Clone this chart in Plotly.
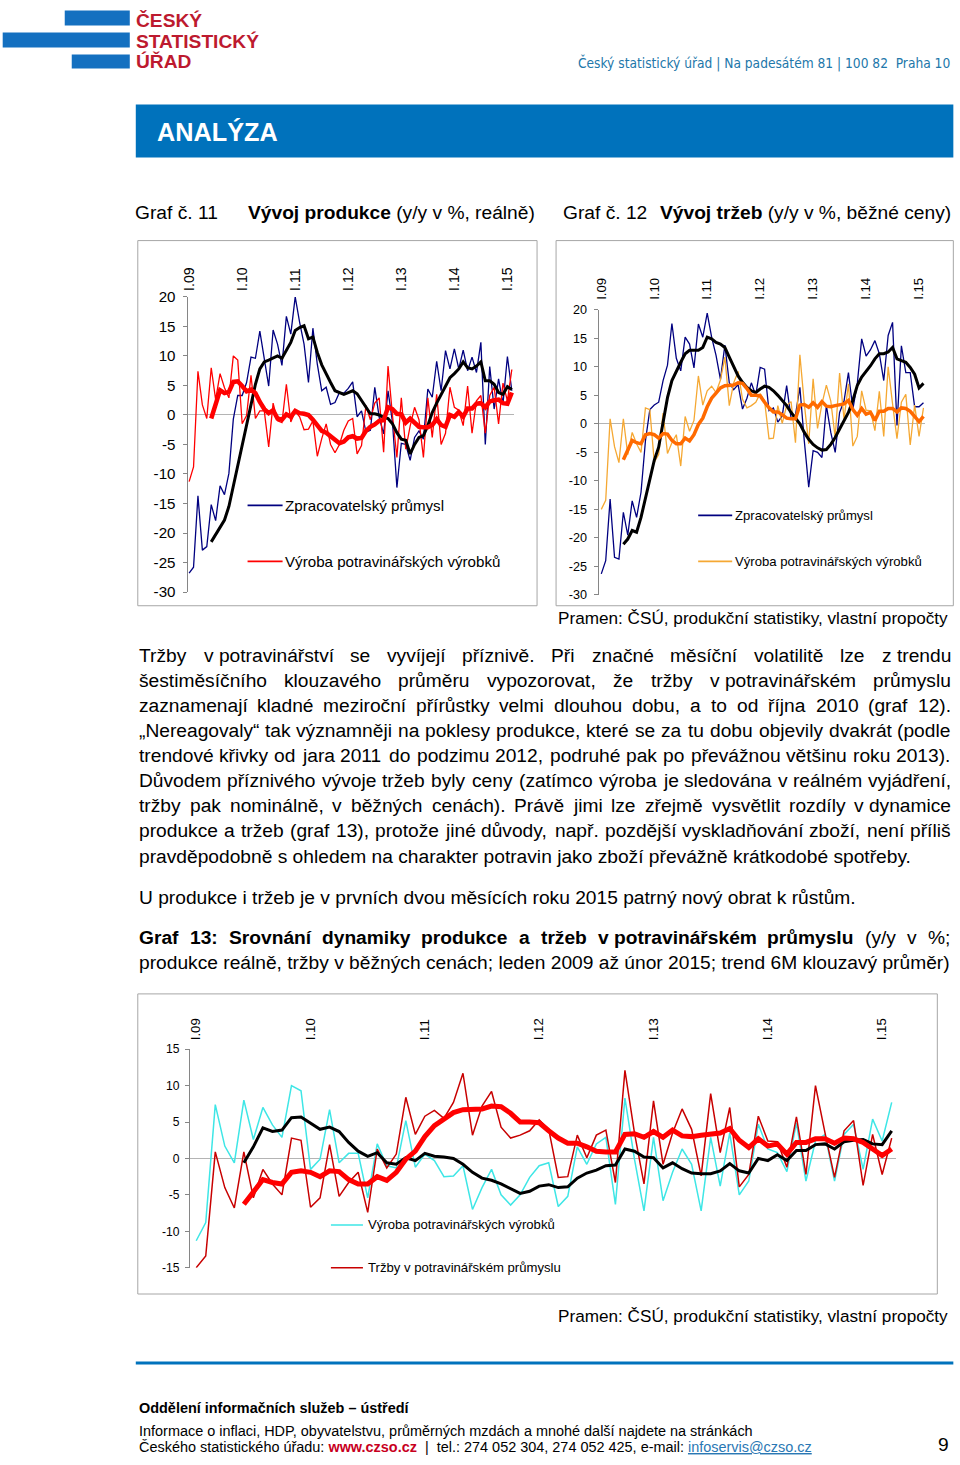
import unicodedata
import plotly.graph_objects as go

# Full-window figure; the body margin is removed after plotting.  Page positions
# are mapped through a small affine correction measured on earlier renders so
# that the photographed picture lines up with the reference.
W, H = 960, 1465
SX, OX = 0.991, 7.3
SY, OY = 0.988, 8.5
FSC = 1 / 0.99
FONT = "Liberation Sans, Arial, sans-serif"

# ------------------------------------------------------------------ data
months = [f"{y}-{m:02d}" for y in range(2009, 2016) for m in range(1, 13)][:74]
tick_months = ["2009-01", "2010-01", "2011-01", "2012-01", "2013-01", "2014-01", "2015-01"]
tick_labels = ["I.09", "I.10", "I.11", "I.12", "I.13", "I.14", "I.15"]
y_ticks_a = [-30, -25, -20, -15, -10, -5, 0, 5, 10, 15, 20]
y_tick_labels_a = ["-30", "-25", "-20", "-15", "-10", "-5", "0", "5", "10", "15", "20"]
y_ticks_b = [-15, -10, -5, 0, 5, 10, 15]
y_tick_labels_b = ["-15", "-10", "-5", "0", "5", "10", "15"]

# Zpracovatelský průmysl - produkce (y/y %), I.2009 - II.2015
manuf_prod = [
    -26.8, -25.8, -13.7, -22.9, -22.3, -15.2, -17.9, -12.0, -13.5, -9.9, -0.7, 3.3,
    3.3, 5.5, 9.8, 9.6, 14.2, 9.5, 4.9, 14.4, 12.0, 8.4, 16.7, 13.7,
    20.0, 15.7, 12.0, 5.5, 14.7, 8.6, 4.1, 4.7, 1.8, 2.1, 3.8, 3.7,
    4.5, 5.6, -0.3, 0.7, -2.9, -2.6, 4.7, -0.4, -3.2, 4.1, -1.2, -12.3,
    -4.8, -5.0, -7.7, -3.8, -2.7, -4.1, 4.4, 3.0, 9.1, 4.1, 10.9, 7.8,
    11.2, 7.8, 11.0, 7.5, 9.8, 7.2, 12.3, -5.0, 8.2, 1.0, 6.1, 1.9,
    9.9, 4.1]
# trend (6M klouzavý průměr), VI.2009 - II.2015
manuf_prod_trend = [
    -21.5, -20.3, -19.0, -17.8, -15.5, -12.0, -8.3,
    -4.8, -1.8, 2.0, 5.2, 7.8, 9.0, 9.3, 9.6, 10.0, 9.6, 11.0, 12.3,
    14.3, 14.8, 15.1, 12.9, 13.2, 10.6, 8.5, 6.9, 5.5, 4.1, 3.8, 3.5,
    3.8, 4.1, 3.6, 2.5, 1.3, 0.2, 0.2, 0.0, -0.4, -0.6, -1.5, -3.0,
    -4.1, -4.3, -6.6, -5.0, -3.8, -3.5, -1.8, 0.4, 2.0, 3.5, 5.0, 6.3,
    7.0, 7.8, 9.0, 8.0, 7.8, 8.3, 9.0, 5.8, 5.8, 5.2, 3.8, 3.5,
    4.8, 4.3]

# Výroba potravinářských výrobků - produkce (y/y %)
food_prod = [
    -11.3, -8.8, 7.4, 1.7, -0.6, 8.0, 2.6, 7.0, 4.6, 2.9, 10.0, 9.3,
    -1.5, -0.1, 6.7, -0.6, 0.7, 0.7, -5.4, 2.0, -1.0, -1.3, 5.2, -1.2,
    0.6, -0.3, -2.5, -2.4, -1.0, -7.0, -4.0, -1.5, -5.0, -6.4, -5.0, -2.6,
    -1.0, -0.6, -6.6, -5.2, 1.6, -0.8, 2.0, 2.9, -6.3, 8.3, -0.1, -7.2,
    2.9, -5.8, -1.9, 1.3, -0.8, -7.2, 2.9, -3.8, 3.5, -5.0, -3.1, 4.7,
    1.3, 0.8, -1.8, 4.9, -3.1, 2.4, 3.3, -3.1, 3.3, 4.7, -1.5, 5.4,
    2.4, 7.7]
food_prod_trend = [
    -0.6, 1.6, 4.2, 3.7, 3.9, 5.6, 5.7,
    4.9, 4.0, 4.3, 3.7, 2.2, 1.0, 0.3, 0.8, -0.6, -0.8, 0.1, -0.3,
    0.7, 0.3, 0.2, 0.0, -0.8, -1.9, -2.7, -3.0, -3.5, -4.2, -4.8, -4.5,
    -3.8, -3.6, -4.0, -3.9, -2.7, -2.0, -1.6, -1.0, -0.9, 1.3, 1.0, 0.2,
    0.1, -1.3, -0.6, -1.4, -2.0, -2.1, -2.1, -1.7, -0.7, -1.7, -2.0, 0.0,
    -0.3, 0.5, -0.3, 1.1, 1.1, 1.9, 2.0, 1.3, 2.3, 2.5, 2.6, 2.0,
    1.9, 3.8]

# Zpracovatelský průmysl - tržby (y/y %, běžné ceny)
manuf_sales = [
    -26.3, -24.0, -13.2, -23.4, -23.7, -15.5, -19.5, -13.5, -16.4, -12.0, -3.0, 2.5,
    3.3, 3.8, 7.6, 10.3, 17.6, 11.5, 9.3, 15.2, 14.0, 9.8, 17.5, 15.2,
    19.4, 15.2, 12.0, 7.8, 13.8, 7.2, 6.0, 6.9, 2.6, 4.5, 7.2, 5.0,
    9.9, 9.6, 2.3, 2.8, 0.3, 1.4, 6.7, 1.0, 1.6, 6.4, -3.0, -11.1,
    -4.7, -5.0, -5.9, 3.2, -1.5, -5.0, 2.0, 4.0, 9.0, 2.6, 7.0, 14.9,
    11.9, 13.0, 14.6, 12.3, 7.6, 15.5, 17.8, -0.3, 13.7, 9.0, 9.0, 3.0,
    3.0, 3.7]
manuf_sales_trend = [
    -21.1, -20.2, -18.7, -19.0, -16.4, -13.2, -9.9,
    -6.4, -4.1, 0.6, 4.6, 7.6, 9.3, 10.8, 12.3, 12.9, 12.9, 12.9, 13.4,
    15.2, 14.9, 14.3, 14.0, 13.4, 11.7, 9.9, 8.4, 7.3, 6.4, 5.8, 5.5,
    6.1, 6.6, 6.4, 5.8, 5.0, 4.1, 3.2, 2.0, 1.0, 0.0, -1.5, -2.7,
    -3.6, -4.2, -4.6, -4.5, -3.6, -2.4, -0.9, 0.6, 2.0, 4.1, 6.7, 8.2,
    9.1, 10.2, 11.4, 12.3, 12.3, 12.6, 13.4, 11.4, 11.1, 10.8, 9.9, 8.7,
    6.3, 7.1]

# Výroba potravinářských výrobků - tržby (y/y %, běžné ceny)
food_sales = [
    -15.0, -13.4, 0.9, -4.0, -6.8, 0.9, -5.4, -1.5, -3.5, -5.0, 2.8, 2.5,
    -6.7, -5.4, 1.9, -5.2, -3.3, -1.9, -7.4, 1.3, -1.3, 0.6, 8.4, 3.3,
    5.8, 6.6, 5.5, 7.7, 11.7, 3.2, 7.2, 9.2, 4.3, 2.8, 3.2, 3.8,
    5.3, 4.0, -2.6, -2.5, 3.2, 0.1, 3.2, 3.9, -3.3, 12.1, 3.5, -3.5,
    7.9, -0.8, 3.5, 6.8, 4.0, -2.4, 8.9, 0.8, 7.0, -3.9, -2.2, 5.8,
    2.4, 2.3, -1.2, 5.7, -2.2, 10.0, 3.5, -2.6, 3.8, 5.2, -3.7, 3.3,
    -2.2, 2.8]
food_sales_trend = [
    -6.3, -4.7, -2.9, -3.3, -3.5, -1.9, -1.7,
    -1.9, -2.5, -1.7, -1.8, -2.9, -3.5, -3.5, -2.5, -3.0, -1.9, -0.1, 1.0,
    3.0, 4.5, 5.4, 6.3, 6.7, 6.7, 6.8, 7.2, 7.1, 6.2, 5.0, 5.0,
    4.9, 3.8, 2.8, 2.1, 2.1, 1.6, 1.0, 0.9, 0.9, 3.3, 3.4, 2.9,
    3.7, 2.9, 3.9, 3.1, 3.0, 3.2, 3.3, 3.5, 4.1, 2.5, 1.5, 2.7,
    1.7, 2.0, 0.6, 2.2, 2.2, 2.7, 2.7, 2.1, 2.8, 2.7, 2.2, 1.3,
    0.4, 1.3]


def pad(trend):
    return [None] * (len(months) - len(trend)) + trend


# ------------------------------------------------------------------ helpers
def fx(px):
    return ((px - OX) / SX) / W


def fy(py):
    return 1 - ((py - OY) / SY) / H


fig = go.Figure()
annotations = []
shapes = []


def text(s, x, y, size, anchor="left", color="black", bold=False, family=FONT, yanchor="middle"):
    if bold:
        s = "<b>" + s + "</b>"
    annotations.append(dict(text=s, x=fx(x), y=fy(y), xref="paper", yref="paper",
                            xanchor=anchor, yanchor=yanchor, showarrow=False, borderpad=0,
                            font=dict(size=size * FSC, color=color, family=family)))


def rect(x0, y0, x1, y1, fill=None, line=None, lw=1):
    shapes.append(dict(type="rect", xref="paper", yref="paper",
                       x0=fx(x0), x1=fx(x1), y0=fy(y1), y1=fy(y0),
                       fillcolor=fill if fill else "rgba(0,0,0,0)",
                       line=dict(color=line if line else "rgba(0,0,0,0)", width=lw if line else 0),
                       layer="below"))


def hline(x0, x1, y, color, width):
    shapes.append(dict(type="line", xref="paper", yref="paper", x0=fx(x0), x1=fx(x1),
                       y0=fy(y), y1=fy(y), line=dict(color=color, width=width)))


def _table(groups):
    t = {}
    for w, chars in groups:
        for ch in chars:
            t[ch] = w
    return t


REG_W = _table([(222, "ijl"), (260, "|"), (278, " \u00a0,./:;!IftíÍ"),
                (333, "()-r\u201e\u201c\u201d"), (500, "cksvxyzJ"),
                (556, "abdeghnopqu0123456789L\u2013"), (611, "FTZ"),
                (667, "ABEKPSVXY"), (722, "CDHNRUw"), (778, "GOQ"), (833, "Mm"),
                (889, "%"), (944, "W")])
BOLD_W = _table([(278, " \u00a0,./IijlíÍ"), (333, "()-:;ft\u201e\u201c\u201d"), (389, "r"),
                 (500, "z"), (556, "acekJsvxy0123456789\u2013"),
                 (611, "bdghnopquFLTZ"), (667, "EPSVXY"), (722, "ABCDHKNRU"),
                 (778, "GOQw"), (833, "M"), (889, "m%"), (944, "W")])


def char_w(ch, bold):
    t = BOLD_W if bold else REG_W
    if ch in t:
        return t[ch]
    base = unicodedata.normalize("NFD", ch)[0]
    return t.get(base, 556)


def justify(tokens, y, x0=138, x1=949, size=19):
    toks = [(t, False) if isinstance(t, str) else t for t in tokens]
    widths = [sum(char_w(c, b) for c in t) * size / 1000 for t, b in toks]
    gap = (x1 - x0 - sum(widths)) / (len(toks) - 1)
    x = x0
    for (t, b), w in zip(toks, widths):
        text(t, x, y, size, bold=b)
        x += w + gap


# ------------------------------------------------------------------ charts
def axes(n, xd, yd, xr, yr, yt, ytl, yfs, xfs, xstand, ystand):
    s = "" if n == 1 else str(n)
    fig.update_layout(**{
        "xaxis" + s: dict(domain=[fx(xd[0]), fx(xd[1])], range=xr, type="category",
                          anchor="y" + s, side="top", tickmode="array",
                          tickvals=tick_months, ticktext=tick_labels, tickangle=-90,
                          tickfont=dict(size=xfs * FSC, color="black", family=FONT),
                          showline=False, showgrid=False, zeroline=False, ticks="",
                          ticklabelstandoff=xstand, fixedrange=True),
        "yaxis" + s: dict(domain=[fy(yd[1]), fy(yd[0])], range=yr, anchor="x" + s,
                          tickmode="array", tickvals=yt, ticktext=ytl,
                          showline=True, linecolor="#868686", linewidth=1,
                          ticks="outside", ticklen=4, tickcolor="#868686", tickwidth=1,
                          showgrid=False, zeroline=True, zerolinecolor="#b4b4b4",
                          zerolinewidth=1,
                          tickfont=dict(size=yfs * FSC, color="black", family=FONT),
                          ticklabelstandoff=ystand, fixedrange=True),
    })


def line(y, ax, color, width, name):
    s = "" if ax == 1 else str(ax)
    fig.add_trace(go.Scatter(x=months, y=y, xaxis="x" + s, yaxis="y" + s, mode="lines",
                             line=dict(color=color, width=width), name=name,
                             showlegend=False, connectgaps=False, hoverinfo="skip"))


# Graf 11
line(manuf_prod, 1, "#000080", 1.3, "Zpracovatelský průmysl")
line(food_prod, 1, "#ff0000", 1.3, "Výroba potravinářských výrobků")
line(pad(manuf_prod_trend), 1, "#000000", 3, "Zpracovatelský průmysl - trend")
line(pad(food_prod_trend), 1, "#ff0000", 4.5, "Výroba potravinářských výrobků - trend")
axes(1, (187.7, 514), (296.3, 591.3), [-0.36, 73.5], [-30, 20],
     y_ticks_a, y_tick_labels_a, 15, 14, 5, 4)

# Graf 12
line(manuf_sales, 2, "#000080", 1.3, "Zpracovatelský průmysl")
line(food_sales, 2, "#f5a833", 1.3, "Výroba potravinářských výrobků")
line(pad(manuf_sales_trend), 2, "#000000", 3, "Zpracovatelský průmysl - trend")
line(pad(food_sales_trend), 2, "#ff6a00", 3.5, "Výroba potravinářských výrobků - trend")
axes(2, (598.5, 925), (309.2, 594.2), [-0.61, 73.42], [-30, 20],
     y_ticks_a, y_tick_labels_a, 12.5, 13, 9, 4)

# Graf 13
line(food_prod, 3, "#3ee6e6", 1.5, "Výroba potravinářských výrobků")
line(food_sales, 3, "#c80000", 1.5, "Tržby v potravinářském průmyslu")
line(pad(food_prod_trend), 3, "#000000", 3, "Výroba potravinářských výrobků - trend")
line(pad(food_sales_trend), 3, "#ff0000", 5, "Tržby v potravinářském průmyslu - trend")
axes(3, (190.2, 895.3), (1048.3, 1266.7), [-0.65, 73.41], [-15, 15],
     y_ticks_b, y_tick_labels_b, 12, 13, 8, 3)

# chart frames
rect(138, 240, 537, 605, line="#a6a6a6")
rect(556, 240, 953, 605, line="#a6a6a6")
rect(138, 993, 937, 1293, line="#a6a6a6")

# legends (chart-local keys)
hline(247.7, 282.7, 504.7, "#000080", 1.6)
text("Zpracovatelský průmysl", 284, 504.5, 15)
hline(247.7, 282.7, 560.7, "#ff0000", 1.6)
text("Výroba potravinářských výrobků", 284, 560.5, 15)

hline(698, 732, 514.7, "#000080", 1.6)
text("Zpracovatelský průmysl", 734, 514.5, 13)
hline(698, 732, 560.7, "#f5a833", 1.6)
text("Výroba potravinářských výrobků", 734, 560.5, 13)

hline(331, 363, 1224, "#3ee6e6", 1.6)
text("Výroba potravinářských výrobků", 367, 1224, 13)
hline(331, 363, 1266.7, "#c80000", 1.6)
text("Tržby v potravinářském průmyslu", 367, 1266.5, 13)

# ------------------------------------------------------------------ page furniture
rect(65, 10, 130, 25, fill="#1470c0")
rect(3, 32, 130, 47, fill="#1470c0")
rect(72, 54, 130, 68, fill="#1470c0")
text("ČESKÝ", 135, 20, 19, bold=True, color="#bd1a2f")
text("STATISTICKÝ", 135, 40.5, 19, bold=True, color="#bd1a2f")
text("ÚŘAD", 135, 61, 19, bold=True, color="#bd1a2f")
text("Český statistický úřad | Na padesátém 81 | 100 82  Praha 10", 951, 62, 13.5,
     anchor="right", color="#2277aa",
     family="Liberation Sans Narrow, DejaVu Sans Condensed, Arial Narrow, sans-serif")

rect(136, 104, 953, 157, fill="#0072bc")
text("ANALÝZA", 156, 131, 25, bold=True, color="white")

text("Graf č. 11", 134, 212, 19)
text("<b>Vývoj produkce</b> (y/y v %, reálně)", 247, 212, 19)
text("Graf č. 12", 562, 212, 19)
text("<b>Vývoj tržeb</b> (y/y v %, běžné ceny)", 659, 212, 19)

text("Pramen: ČSÚ, produkční statistiky, vlastní propočty", 949, 617, 17, anchor="right")

justify(["Tržby", "v\u00a0potravinářství", "se", "vyvíjejí", "příznivě.", "Při", "značné",
         "měsíční", "volatilitě", "lze", "z\u00a0trendu"], 655)
justify(["šestiměsíčního", "klouzavého", "průměru", "vypozorovat,", "že", "tržby",
         "v\u00a0potravinářském", "průmyslu"], 680)
justify(["zaznamenají", "kladné", "meziroční", "přírůstky", "velmi", "dlouhou", "dobu,", "a",
         "to", "od", "října", "2010", "(graf", "12)."], 705)
justify(["\u201eNereagovaly\u201c", "tak", "významněji", "na", "poklesy", "produkce,", "které",
         "se", "za", "tu", "dobu", "objevily", "dvakrát", "(podle"], 730)
justify(["trendové", "křivky", "od", "jara", "2011", "do", "podzimu", "2012,", "podruhé", "pak",
         "po", "převážnou", "většinu", "roku", "2013)."], 755)
justify(["Důvodem", "příznivého", "vývoje", "tržeb", "byly", "ceny", "(zatímco", "výroba", "je",
         "sledována", "v\u00a0reálném", "vyjádření,"], 780)
justify(["tržby", "pak", "nominálně,", "v", "běžných", "cenách).", "Právě", "jimi", "lze",
         "zřejmě", "vysvětlit", "rozdíly", "v\u00a0dynamice"], 805)
justify(["produkce", "a", "tržeb", "(graf", "13),", "protože", "jiné", "důvody,", "např.",
         "pozdější", "vyskladňování", "zboží,", "není", "příliš"], 830)
text("pravděpodobně s ohledem na charakter potravin jako zboží převážně krátkodobé spotřeby.",
     138, 856, 19)

text("U produkce i tržeb je v prvních dvou měsících roku 2015 patrný nový obrat k růstům.",
     138, 897, 19)

justify([("Graf", True), ("13:", True), ("Srovnání", True), ("dynamiky", True),
         ("produkce", True), ("a", True), ("tržeb", True), ("v\u00a0potravinářském", True),
         ("průmyslu", True), ("(y/y", False), ("v", False), ("%;", False)], 937)
text("produkce reálně, tržby v běžných cenách; leden 2009 až únor 2015; trend 6M klouzavý průměr)",
     138, 962, 19)

text("Pramen: ČSÚ, produkční statistiky, vlastní propočty", 949, 1315, 17, anchor="right")

hline(136, 953, 1362, "#0072bc", 3)
text("Oddělení informačních služeb \u2013 ústředí", 138, 1407, 14.3, bold=True)
text("Informace o inflaci, HDP, obyvatelstvu, průměrných mzdách a mnohé další najdete na stránkách",
     138, 1430, 14.3)
text("Českého statistického úřadu: <span style='font-weight:bold;color:#c8001e'>www.czso.cz</span>"
     "  |  tel.: 274 052 304, 274 052 425, e-mail: "
     "<span style='color:#2a78b4;text-decoration:underline'>infoservis@czso.cz</span>",
     138, 1446, 14.3)
text("9", 943, 1443, 19, anchor="center")

fig.update_layout(width=W, height=H, autosize=False,
                  margin=dict(l=0, r=0, t=0, b=0, pad=0),
                  paper_bgcolor="white", plot_bgcolor="white",
                  font=dict(family=FONT, color="black"),
                  showlegend=False, annotations=annotations, shapes=shapes)

fig.write_html("out.html", config={"displayModeBar": False, "staticPlot": True},
               post_script="document.body.style.margin='0';document.body.style.overflow='hidden';")
